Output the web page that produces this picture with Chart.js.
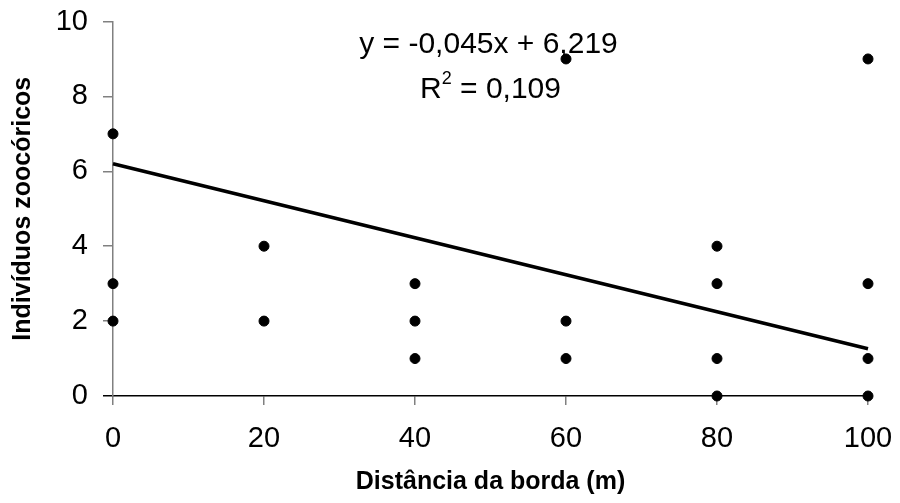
<!DOCTYPE html>
<html lang="pt">
<head>
  <meta charset="UTF-8" />
  <title>Indivíduos zoocóricos x distância da borda</title>
  <script src="https://cdn.jsdelivr.net/npm/chart.js"></script>
  <style>
    body { margin: 0; background: #fff; }
    #wrap { width: 900px; height: 503px; position: relative; }
  </style>
</head>
<body>

<div id="wrap"><canvas id="grafico"></canvas></div>

<script>
  // pontos observados (distância, indivíduos)
  const distancias = [0, 0, 0, 20, 20, 40, 40, 40, 60, 60, 60, 80, 80, 80, 80, 100, 100, 100, 100];
  const individuos = [7, 3, 2, 4, 2, 3, 2, 1, 9, 2, 1, 4, 3, 1, 0, 9, 3, 1, 0];

  // reta de tendência, como aparece desenhada na figura
  const retaX = [0, 100];
  const retaY = [6.2, 1.26];

  const eqLinha1 = "y = -0,045x + 6,219";
  const eqR2 = "0,109";

  const xTicks = [0, 20, 40, 60, 80, 100];
  const yTicks = [0, 2, 4, 6, 8, 10];

  const fonte = "Arial, 'Liberation Sans', sans-serif";
  const cinza = "#808080";

  const pontos = distancias.map((d, i) => ({ x: d, y: individuos[i] }));
  const reta = retaX.map((d, i) => ({ x: d, y: retaY[i] }));

  // texto da equação em cima do gráfico
  const equacao = {
    id: "equacao",
    afterDraw(chart) {
      const ctx = chart.ctx;
      const cx = (chart.chartArea.left + chart.chartArea.right) / 2 - 2;
      ctx.save();
      ctx.fillStyle = "#000";
      ctx.textBaseline = "alphabetic";
      ctx.font = "30px " + fonte;
      ctx.textAlign = "center";
      ctx.fillText(eqLinha1, cx, 53);

      // R² = 0,109 com expoente
      const resto = " = " + eqR2;
      const wR = ctx.measureText("R").width;
      ctx.font = "18px " + fonte;
      const w2 = ctx.measureText("2").width;
      ctx.font = "30px " + fonte;
      const wResto = ctx.measureText(resto).width;
      let x = cx + 2 - (wR + w2 + wResto) / 2;
      ctx.textAlign = "left";
      ctx.fillText("R", x, 98);
      ctx.font = "18px " + fonte;
      ctx.fillText("2", x + wR, 84);
      ctx.font = "30px " + fonte;
      ctx.fillText(resto, x + wR + w2, 98);
      ctx.restore();
    }
  };

  new Chart(document.getElementById("grafico"), {
    type: "scatter",
    data: {
      datasets: [
        {
          label: "Indivíduos",
          data: pontos,
          backgroundColor: "#000",
          borderColor: "#000",
          pointRadius: 5,
          pointHoverRadius: 5,
          clip: false,
          order: 1
        },
        {
          type: "line",
          label: "Linear",
          data: reta,
          borderColor: "#000",
          borderWidth: 3.5,
          pointRadius: 0,
          fill: false,
          clip: false,
          order: 2
        }
      ]
    },
    plugins: [equacao],
    options: {
      responsive: true,
      maintainAspectRatio: false,
      animation: false,
      layout: { padding: { top: 21.5, right: 32, left: 0, bottom: 0 } },
      plugins: {
        legend: { display: false },
        tooltip: { enabled: false }
      },
      scales: {
        x: {
          type: "linear",
          min: 0,
          max: 100,
          afterBuildTicks: s => { s.ticks = xTicks.map(v => ({ value: v })); },
          afterFit: s => { s.height = 107; s.paddingLeft = 0; s.paddingRight = 0; },
          border: { color: "#000", width: 1.5 },
          grid: { drawOnChartArea: false, tickLength: 9, color: cinza, lineWidth: 1.5 },
          ticks: { color: "#000", padding: 17, font: { family: fonte, size: 29 } },
          title: {
            display: true,
            text: "Distância da borda (m)",
            color: "#000",
            font: { family: fonte, size: 25, weight: "bold" },
            padding: { top: 0, bottom: 6 }
          }
        },
        y: {
          type: "linear",
          min: 0,
          max: 10,
          afterBuildTicks: s => { s.ticks = yTicks.map(v => ({ value: v })); },
          afterFit: s => { s.width = 113; s.paddingTop = 0; s.paddingBottom = 0; },
          border: { color: cinza, width: 1.5 },
          grid: {
            drawOnChartArea: false,
            tickLength: 10,
            color: c => c.tick && c.tick.value === 0 ? "#000" : cinza,
            lineWidth: 1.5
          },
          ticks: { color: "#000", padding: 15, font: { family: fonte, size: 29 } },
          title: {
            display: true,
            text: "Indivíduos zoocóricos",
            color: "#000",
            font: { family: fonte, size: 25, weight: "bold" },
            padding: { top: 8, bottom: 0 }
          }
        }
      }
    }
  });
</script>

</body>
</html>
